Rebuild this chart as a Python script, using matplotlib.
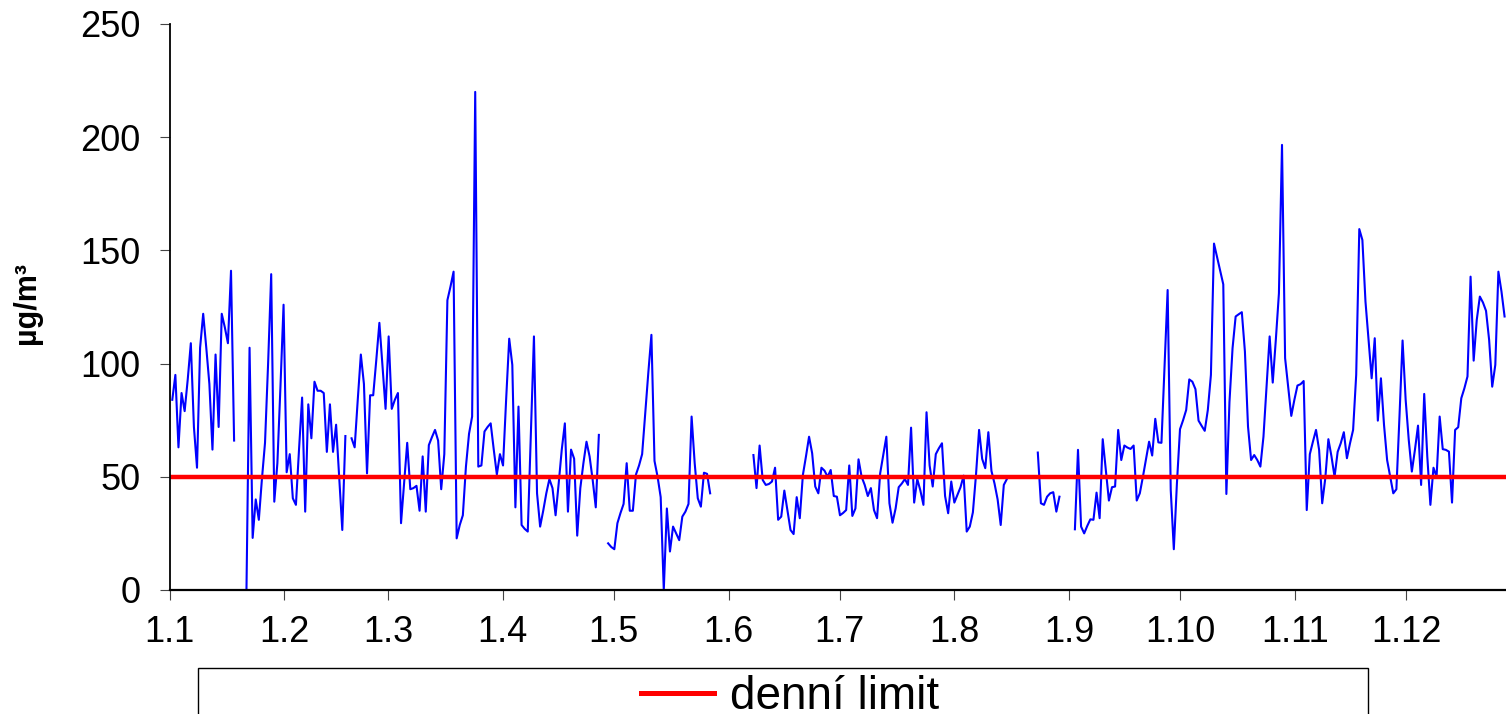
import numpy as np
import matplotlib
matplotlib.use("Agg")
import matplotlib.pyplot as plt
from matplotlib.patches import Rectangle

plt.rcParams['font.family'] = ['Liberation Sans', 'DejaVu Sans']

nan = None

# denní koncentrace PM10 (µg/m3), mezery = chybějící data
pm10 = [
    84, 95, 63, 87, 79, 93, 109, 72, 54, 107, 122, 107, 91, 62, 104, 72, 122, 116, 109, 141, 66,
    nan, nan, nan,
    0, 107, 23, 40, 31, 49, 65, 100, 139.5, 39, 56, 90, 126,
    52, 60, 40.5, 37.6, 62, 85, 34.6, 82, 67, 92, 88, 88, 87, 61, 82, 61, 73, 50, 26.5, 68,
    nan,
    67, 63, 84, 104, 91, 51.5, 86, 86, 101.6, 118, 99, 80, 112, 80, 84, 87, 29.5, 47, 65, 44.5,
    45, 46, 35, 59, 34.6, 64, 67.5, 70.7, 66, 44.5, 60, 128, 134, 140.6, 22.8, 28.7, 33, 54.5, 69,
    76.6, 220, 54.5, 55, 70, 72, 73.6, 62, 51, 60, 55, 84, 111, 99.4, 36.5, 81, 28.7, 27, 25.8, 69,
    112, 42.7, 28, 35, 42.7, 49, 45, 33, 47, 62, 73.6, 34.6, 62, 58, 24, 45, 56, 65.5, 59, 48.6,
    36.5, 68.5,
    nan, nan,
    20.6, 19, 18, 29.5, 34, 38, 56, 35, 35, 51, 55, 60, 78, 96, 112.7, 57,
    50, 41, 0, 36, 17, 28, 25, 22, 32.4, 34.6, 38, 76.6, 56, 40.5, 36.8, 51.8, 51.3, 42.7,
    nan, nan, nan, nan, nan, nan, nan, nan, nan, nan, nan, nan, nan,
    59.6, 45, 63.8, 48.6, 46.4, 46.8, 47.9, 54, 31, 32.4, 43.9, 35.3, 26.5, 24.7, 41, 31.7, 50.8,
    59, 67.7, 60.4, 45.7, 42.7, 54, 52.7, 50, 53, 41.5, 41.2, 33,
    34, 35.3, 55, 32.7, 36, 57.7, 50, 46.4, 41.5, 45, 35.3, 31.7, 51.5, 59.6, 67.7, 38.3, 29.7, 36,
    45.4, 47, 49, 46.4, 71.7, 38.6, 49, 44, 37.6, 78.5, 55, 45.7, 60, 62.6, 64.8, 41.5, 33.9, 47.9,
    38.6, 42, 45.4, 50.5, 25.8, 28, 34.3, 50.8, 70.7, 57.9, 53.8, 69.7, 52.6, 47, 40, 28.7, 46.4,
    49,
    nan, nan, nan, nan, nan, nan, nan, nan, nan,
    60.7, 38.3, 37.6, 41.2, 42.7, 43.2, 34.6, 41.2,
    nan, nan, nan, nan,
    26.8, 61.9, 28, 25, 28.3, 31.2, 31, 43, 31.7, 66.6, 53, 39.5, 45.4, 45.7, 70.7, 57.4, 63.8,
    62.9, 62.3, 63.8, 39.5, 42.7, 50, 57.7, 65.5, 59.4, 75.6, 65.2, 65, 98.7, 132.5,
    44.2, 18, 47, 71, 75, 79.5, 93, 92, 88.7, 74.8, 72.5, 70.3, 79.5, 95, 153, 147, 141, 135, 42.4,
    83, 106.8, 120.8, 121.8, 122.7, 105.3, 72.2, 57.4, 59.6, 57.4, 54.5, 67.7, 89.8, 112, 91.6,
    110.5, 131, 196.6, 102.4, 89.8, 76.9, 84, 90.3, 90.9, 92.3, 35.3, 60, 65.5, 70.7, 61.9, 38.3,
    49.3, 66.6, 59, 50,
    61, 64.8, 69.7, 58.2, 64.8, 70.7, 95, 159.4, 154.6, 127.4, 110.5, 93.5, 111.2, 74.8, 93.5, 72.9,
    57.4, 50, 42.7, 44.5, 76.6, 110.2, 84, 66.3, 52.3, 61.9, 72.6, 46.4, 86.6, 58.9, 37.6, 54, 50,
    76.6, 62.2, 61.9, 61.1, 38.6, 70.7, 71.9, 84.7, 89.1, 94.3, 138.4, 101.3, 119.3, 129.6, 127,
    123.3, 110.5, 89.8, 99.4, 140.6, 131.8, 120.8,
]

denni_limit = 50

mesice = ['1.1', '1.2', '1.3', '1.4', '1.5', '1.6', '1.7', '1.8', '1.9', '1.10', '1.11', '1.12']
mesice_den = [0, 31, 59, 90, 120, 151, 181, 212, 243, 273, 304, 334]

vals = np.array([np.nan if v is None else v for v in pm10], dtype=float)
# mereni neni presne denni - krok v dnech
x = 0.73 + np.arange(len(vals)) * 0.835

fig = plt.figure(figsize=(15.06, 7.14), dpi=100)
ax = fig.add_axes([0.1126, 0.1737, 0.8874, 0.7927])

ax.plot(x, vals, color='#0000FF', lw=1.5)
ax.plot(x, np.full(len(x), denni_limit), color='#FF0000', lw=3.2, label='denní limit')

ax.set_xlim(0, 361)
ax.set_ylim(0, 250)
ax.set_yticks([0, 50, 100, 150, 200, 250])
ax.set_xticks(mesice_den)
ax.set_xticklabels(mesice)

for s in ['top', 'right']:
    ax.spines[s].set_visible(False)
ax.spines['left'].set_linewidth(1.3)
ax.spines['bottom'].set_linewidth(1.6)

ax.tick_params(axis='both', direction='out', length=7, width=0.8, color='#444444',
               labelsize=26)
ax.tick_params(axis='x', pad=11)
ax.tick_params(axis='y', pad=14)

ax.set_ylabel('µg/m³', fontsize=22, fontweight='bold', va='center')
ax.yaxis.set_label_coords(-0.107, 0.507)

# legenda
fig.patches.append(Rectangle((198 / 1506, -0.04), 1170 / 1506, 0.04 + 1 - 668 / 714,
                             transform=fig.transFigure, fill=False, edgecolor='black',
                             lw=1.0, clip_on=False))
fig.legend(loc='center', bbox_to_anchor=(790 / 1506, 1 - 697 / 714), frameon=False,
           fontsize=33, handlelength=1.6, handletextpad=0.35, borderpad=0)
for line in fig.legends[0].get_lines():
    line.set_linewidth(3.6)

fig.savefig('out.png', dpi=100)
